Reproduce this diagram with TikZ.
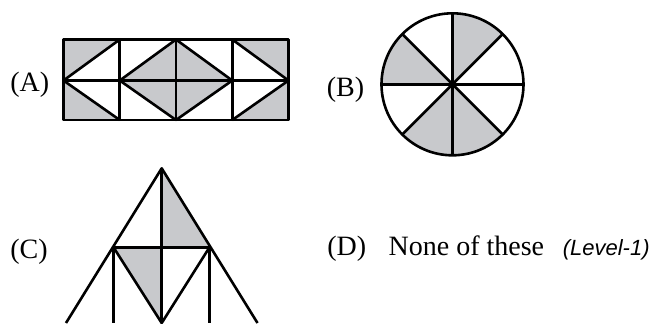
\documentclass[tikz,border=0pt]{standalone}
\usepackage{fontspec}
\setmainfont{Liberation Serif}
\newfontfamily\levelfont{Liberation Sans}
\usetikzlibrary{calc}
\definecolor{mygray}{RGB}{200,201,204}
\tikzset{
  edge/.style={line width=1.3pt, color=black, line join=round},
  greyfill/.style={fill=mygray},
  optlabel/.style={anchor=base west, inner sep=0pt, font=\fontsize{14}{16}\selectfont},
  levellabel/.style={anchor=base east, inner sep=0pt, font=\levelfont\itshape\fontsize{11}{13}\selectfont}
}

\begin{document}
\begin{tikzpicture}[x=0.5pt, y=-0.5pt]
  \useasboundingbox (0,0) rectangle (655,323);

  % Option (A): rectangle of four cells
  \node[optlabel] (labA) at (10,91.5) {(A)};
  \fill[greyfill] (63.5,39.5) -- (119.75,39.5) -- (63.5,80.5) -- cycle;
  \fill[greyfill] (63.5,80.5) -- (119.75,120) -- (63.5,120) -- cycle;
  \fill[greyfill] (119.75,80.5) -- (176,39.5) -- (176,120) -- cycle;
  \fill[greyfill] (176,39.5) -- (232.25,80.5) -- (176,120) -- cycle;
  \fill[greyfill] (232.25,39.5) -- (288.5,39.5) -- (288.5,80.5) -- cycle;
  \fill[greyfill] (288.5,80.5) -- (288.5,120) -- (232.25,120) -- cycle;
  \draw[edge] (63.5,39.5) rectangle (288.5,120);
  \draw[edge] (63.5,80.5) -- (288.5,80.5);
  \foreach \x in {119.75,176,232.25}
    \draw[edge] (\x,39.5) -- (\x,120);
  \draw[edge] (119.75,39.5) -- (63.5,80.5) -- (119.75,120);
  \draw[edge] (176,39.5) -- (119.75,80.5) -- (176,120);
  \draw[edge] (176,39.5) -- (232.25,80.5) -- (176,120);
  \draw[edge] (232.25,39.5) -- (288.5,80.5) -- (232.25,120);

  % Option (B): circle in eight sectors
  \node[optlabel] (labB) at (326.5,96) {(B)};
  \begin{scope}[shift={(452.5,84.3)}, yscale=-1]
    \foreach \a in {45,135,225,270}
      \fill[greyfill] (0,0) -- (\a:71) arc[start angle=\a, delta angle=45, radius=71] -- cycle;
    \foreach \a in {0,45,90,135}
      \draw[edge] (\a:71) -- (\a+180:71);
    \draw[edge] (0,0) circle[radius=71];
  \end{scope}

  % Option (C): triangle
  \node[optlabel] (labC) at (10,258) {(C)};
  \fill[greyfill] (161.7,168.3) -- (161.7,247.3) -- (209.5,247.3) -- cycle;
  \fill[greyfill] (113.5,247.3) -- (161.7,247.3) -- (161.7,323) -- cycle;
  \draw[edge] (66,323) -- (161.7,168.3) -- (257.5,323);
  \draw[edge] (161.7,168.3) -- (161.7,323);
  \draw[edge] (113.5,247.3) -- (209.5,247.3);
  \draw[edge] (113.5,247.3) -- (113.5,323);
  \draw[edge] (209.5,247.3) -- (209.5,323);
  \draw[edge] (113.5,247.3) -- (161.7,323) -- (209.5,247.3);

  % Option (D)
  \node[optlabel] (labD) at (327,255) {(D)\hspace{0.8em}None of these};
  \node[levellabel] (level) at (650,255) {(Level-1)};
\end{tikzpicture}
\end{document}
